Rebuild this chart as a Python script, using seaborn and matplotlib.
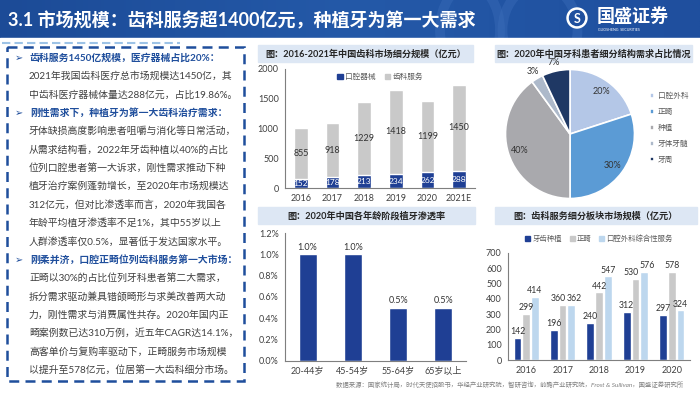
import numpy as np
import pandas as pd
import seaborn as sns
import matplotlib.pyplot as plt
from matplotlib.patches import Rectangle, Patch, Circle, Arc
from matplotlib.colors import LinearSegmentedColormap

# ---- data ----
years1 = ['2016', '2017', '2018', '2019', '2020', '2021E']
device = [152, 178, 213, 234, 262, 288]
service = [855, 918, 1229, 1418, 1199, 1450]
legend1 = ['口腔器械', '齿科服务']

pie_labels = ['口腔外科', '正畸', '种植', '牙体牙髓', '牙周']
pie_share = [20, 30, 40, 3, 7]

ages = ['20-44岁', '45-54岁', '55-64岁', '65岁以上']
implant_rate = [1.0, 1.0, 0.5, 0.5]

years4 = ['2016', '2017', '2018', '2019', '2020']
implant = [142, 196, 240, 312, 297]
ortho = [299, 360, 442, 530, 578]
surgery = [414, 362, 547, 576, 324]
series4 = ['牙齿种植', '正畸', '口腔外科综合性服务']

title = '3.1 市场规模：齿科服务超1400亿元，种植牙为第一大需求'
chart_titles = ['图：2016-2021年中国齿科市场细分规模（亿元）',
                '图：2020年中国牙科患者细分结构需求占比情况',
                '图：2020年中国各年龄阶段植牙渗透率',
                '图：齿科服务细分板块市场规模（亿元）']
body_lines = [
    '齿科服务1450亿规模，医疗器械占比20%：',
    '2021年我国齿科医疗总市场规模达1450亿，其',
    '中齿科医疗器械体量达288亿元，占比19.86%。',
    '刚性需求下，种植牙为第一大齿科治疗需求：',
    '牙体缺损高度影响患者咀嚼与消化等日常活动，',
    '从需求结构看，2022年牙齿种植以40%的占比',
    '位列口腔患者第一大诉求，刚性需求推动下种',
    '植牙治疗案例蓬勃增长，至2020年市场规模达',
    '312亿元，但对比渗透率而言，2020年我国各',
    '年龄平均植牙渗透率不足1%，其中55岁以上',
    '人群渗透率仅0.5%，显著低于发达国家水平。',
    '刚柔并济，口腔正畸位列齿科服务第一大市场：',
    '正畸以30%的占比位列牙科患者第二大需求，',
    '拆分需求驱动兼具错颌畸形与求美改善两大动',
    '力，刚性需求与消费属性共存。2020年国内正',
    '畸案例数已达310万例，近五年CAGR达14.1%，',
    '高客单价与复购率驱动下，正畸服务市场规模',
    '以提升至578亿元，位居第一大齿科细分市场。',
]
bullet_idx = [0, 3, 11]
source = '数据来源：国家统计局，时代天使招股书，华经产业研究院，智研咨询，前瞻产业研究院，Frost & Sullivan，国盛证券研究所'

navy = '#1f3f94'
gray = '#c9c9c9'
light = '#bdd7ee'
pie_colors = ['#b4c7e7', '#5b9bd5', '#a9a9ad', '#adb9ca', '#1f3864']
bar_bg = '#dde7f4'
txt = '#404040'

sns.set_theme(style='white')
plt.rcParams['font.family'] = ['Lato', 'Noto Sans CJK SC', 'DejaVu Sans']

W, H = 700, 394
fig = plt.figure(figsize=(7, 3.94), dpi=100)


def px_axes(x0, y0, x1, y1):
    return fig.add_axes([x0 / W, 1 - y1 / H, (x1 - x0) / W, (y1 - y0) / H])


# background canvas in pixel coordinates
bg = fig.add_axes([0, 0, 1, 1])
bg.set_xlim(0, W)
bg.set_ylim(H, 0)
bg.axis('off')

cmap = LinearSegmentedColormap.from_list('hdr', ['#1c4b97', '#2459a8', '#1f4f9e'])
bg.imshow(np.linspace(0, 1, 256)[None, :], extent=[0, W, 38, 0], cmap=cmap, aspect='auto', zorder=0)
for cx, r in [(470, 60), (540, 75)]:
    bg.add_patch(Arc((cx, 30), r, 90, theta1=0, theta2=360, color='#3a6cb8', lw=7, alpha=0.45, zorder=1))
bg.add_patch(Rectangle((0, 38), W, H - 38, color='white', zorder=2))
bg.plot([2, 180], [43, 43], color='#9dc3e6', lw=1.5, ls=(0, (4, 2)), zorder=3)
bg.text(8, 20, title, color='white', fontsize=13, fontweight='bold', va='center', ha='left', zorder=3)

# logo
bg.add_patch(Circle((577, 18), 10, color='white', zorder=3))
bg.add_patch(Circle((577, 18), 7.5, color='#1f4f9e', zorder=3))
bg.text(577, 18.5, 'S', color='white', fontsize=9, fontweight='bold', ha='center', va='center', zorder=4)
bg.text(597, 16, '国盛证券', color='white', fontsize=13, fontweight='bold', ha='left', va='center', zorder=3)
bg.text(598, 30, 'GUOSHENG  SECURITIES', color='white', fontsize=2.6, ha='left', va='center', zorder=3)

# left text box
bg.add_patch(Rectangle((7, 47), 237, 334, fill=False, ec='#1f4e9c', lw=1.8, ls=(0, (4, 2.5)), zorder=3))
for i, line in enumerate(body_lines):
    y = 58 + i * 18.35
    if i in bullet_idx:
        bg.text(15, y, '➢', color='#1f4e9c', fontsize=7, ha='left', va='center', zorder=4,
                family=['DejaVu Sans'])
        bg.text(30, y, line, color='#1f4e9c', fontsize=7.1, fontweight='bold', ha='left', va='center', zorder=4)
    else:
        bg.text(29, y, line, color=txt, fontsize=7.1, ha='left', va='center', zorder=4)

# chart title bars
bars_pos = [(258, 45, 473, 62), (495, 45, 692, 62), (258, 207, 475, 224), (495, 207, 697, 224)]
for (x0, y0, x1, y1), t in zip(bars_pos, chart_titles):
    bg.add_patch(Rectangle((x0, y0), x1 - x0, y1 - y0, color=bar_bg, zorder=3))
    bg.text((x0 + x1) / 2, (y0 + y1) / 2 + 0.5, t, fontsize=6.6, fontweight='bold', color='#262626',
            ha='center', va='center', zorder=4)

bg.text(336, 385, source, fontsize=4.6, color='#7f7f7f', style='italic', ha='left', va='center', zorder=4)


def style_axes(ax):
    sns.despine(ax=ax)
    for s in ['left', 'bottom']:
        ax.spines[s].set_color('#7f7f7f')
        ax.spines[s].set_linewidth(0.8)
    ax.tick_params(axis='both', labelsize=6.5, colors=txt, length=2.5, width=0.6, pad=2)
    ax.tick_params(axis='x', length=0, pad=4)
    ax.set_xlabel('')
    ax.set_ylabel('')
    ax.set_facecolor('none')


# ---- chart 1: stacked bars ----
ax1 = px_axes(285, 69, 475, 188)
totals = [d + s for d, s in zip(device, service)]
sns.barplot(x=years1, y=totals, color=gray, width=0.44, saturation=1, ax=ax1)
sns.barplot(x=years1, y=device, color=navy, width=0.44, saturation=1, ax=ax1)
ax1.set_ylim(0, 2000)
ax1.set_yticks(range(0, 2001, 500))
style_axes(ax1)
ax1.bar_label(ax1.containers[1], labels=[str(v) for v in device], label_type='center',
              color='white', fontsize=6)
for i, (d, s) in enumerate(zip(device, service)):
    ax1.text(i, d + s / 2, str(s), ha='center', va='center', fontsize=6.5, color='#333333')
ax1.legend(handles=[Patch(color=navy), Patch(color=gray)], labels=legend1, loc='upper center',
           bbox_to_anchor=(0.5, 1.03), ncol=2, frameon=False, fontsize=5.5, handlelength=0.7,
           handleheight=0.7, handletextpad=0.3, columnspacing=1.2, labelcolor='#595959')

# ---- chart 2: pie ----
ax2 = px_axes(505.5, 69.5, 634.5, 198.5)
wedges, texts, autotexts = ax2.pie(pie_share, colors=pie_colors, startangle=90, counterclock=False,
                                   autopct=lambda p: f'{p:.0f}%', pctdistance=0.82,
                                   wedgeprops=dict(edgecolor='white', linewidth=1.2),
                                   textprops=dict(fontsize=6.5, color='#333333'))
for w, t, v in zip(wedges, autotexts, pie_share):
    if v < 10:
        ang = np.deg2rad((w.theta1 + w.theta2) / 2)
        t.set_position((1.13 * np.cos(ang), 1.13 * np.sin(ang)))
ax2.set_xlim(-1, 1)
ax2.set_ylim(-1, 1)
ax2.legend(wedges, pie_labels, loc='upper left', bbox_to_anchor=(643 / W, 1 - 85 / H),
           bbox_transform=fig.transFigure, frameon=False, fontsize=5.5, handlelength=0.6,
           handleheight=0.6, handletextpad=0.4, labelspacing=1.15, labelcolor='#595959')

# ---- chart 3: penetration ----
ax3 = px_axes(285, 233, 466, 361)
sns.barplot(x=ages, y=implant_rate, color=navy, width=0.4, saturation=1, ax=ax3)
ax3.set_ylim(0, 1.2)
ax3.set_yticks(np.arange(0, 1.21, 0.2))
ax3.set_yticklabels([f'{v:.1f}%' for v in np.arange(0, 1.21, 0.2)])
style_axes(ax3)
ax3.bar_label(ax3.containers[0], labels=[f'{v:.1f}%' for v in implant_rate], fontsize=6.5,
              color='#333333', padding=2)

# ---- chart 4: grouped bars ----
ax4 = px_axes(508, 253, 690, 360)
df4 = pd.DataFrame({'year': years4 * 3,
                    'series': np.repeat(series4, len(years4)),
                    'value': implant + ortho + surgery})
sns.barplot(data=df4, x='year', y='value', hue='series', palette=[navy, gray, light],
            width=0.72, gap=0.12, saturation=1, ax=ax4, legend=False)
ax4.set_ylim(0, 700)
ax4.set_yticks(range(0, 701, 100))
style_axes(ax4)
for k, c in enumerate(ax4.containers):
    for j, b in enumerate(c):
        x = b.get_x() + b.get_width() / 2
        h = b.get_height()
        # nudge apart labels of neighbouring bars that have nearly equal heights
        if k == 1 and abs(ortho[j] - surgery[j]) < 60:
            x -= 0.12
        elif k == 2 and abs(ortho[j] - surgery[j]) < 60:
            x += 0.09
        ax4.text(x, h + 12, str(int(h)), ha='center', va='bottom', fontsize=6.3, color='#333333')
ax4.legend(handles=[Patch(color=navy), Patch(color=gray), Patch(color=light)], labels=series4,
           loc='center', bbox_to_anchor=(0.5, 1.14), ncol=3, frameon=False, fontsize=5.3,
           handlelength=0.7, handleheight=0.7, handletextpad=0.3, columnspacing=1.0,
           labelcolor='#595959')

fig.savefig('out.png', dpi=100)
